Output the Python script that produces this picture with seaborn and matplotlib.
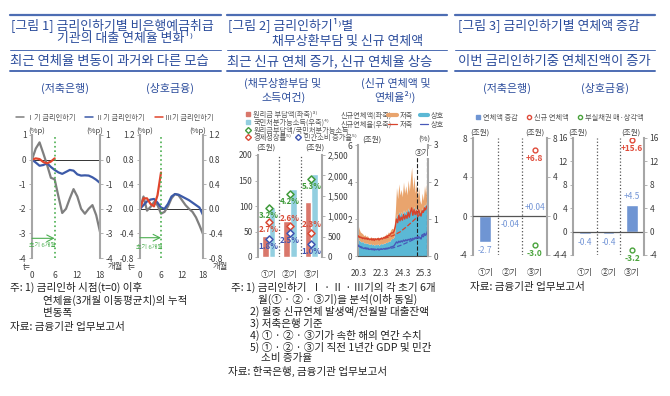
import numpy as np
import pandas as pd
import matplotlib
matplotlib.use("Agg")
import matplotlib.pyplot as plt
import seaborn as sns
from matplotlib.lines import Line2D
from matplotlib.patches import Rectangle
from matplotlib.ticker import FormatStrFormatter, FuncFormatter

# [그림 1] 금리인하기별 연체율 누적 변동폭 (%p), t=0~18개월
months = list(range(19))
sav_cycle1 = [0, 0.45, 0.70, 0.25, -0.22, -0.74, -0.80, -1.50, -2.17, -2.00, -1.58,
              -1.20, -1.50, -2.00, -2.20, -2.00, -1.85, -2.26, -2.94]
sav_cycle2 = [0, -0.12, -0.25, -0.22, -0.15, -0.30, -0.42, -0.52, -0.58, -0.50, -0.42,
              -0.45, -0.60, -0.65, -0.64, -0.65, -0.72, -0.82, -0.95]
sav_cycle3 = [0, 0.05, 0.02, -0.10, -0.15, -0.08, 0.05]
mut_cycle1 = [0, 0.20, -0.03, 0.03, 0.11, 0.06, -0.08, -0.05, 0.04, 0.17, 0.24,
              0.22, 0.14, 0.06, 0.00, -0.05, -0.14, -0.27, -0.41]
mut_cycle2 = [0, 0.06, 0.12, 0.15, 0.16, 0.10, 0.02, 0.00, 0.08, 0.20, 0.24,
              0.23, 0.20, 0.17, 0.14, 0.10, 0.06, 0.02, -0.10]
mut_cycle3 = [0, 0.17, 0.17, 0.08, 0.04, 0.22, 0.59]
cycle_names = ['Ⅰ기 금리인하기', 'Ⅱ기 금리인하기', 'Ⅲ기 금리인하기']

# [그림 2] 좌: 채무상환부담 및 소득여건
periods = ['①기', '②기', '③기']
burden = [41, 71, 108]            # 원리금 부담액 (조원, 좌축)
income = [1235, 1670, 2030]       # 국민처분가능소득 (조원, 우축)
ratio_pos = [97, 123, 153]
ratio_lbl = ['3.2%', '4.2%', '5.3%']
gdp_pos = [68, 61, 48]
gdp_lbl = ['2.7%', '2.6%', '2.3%']
cons_pos = [36, 48, 26]
cons_lbl = ['1.8%', '2.5%', '1.0%']

# [그림 2] 우: 신규 연체액(조원) 및 신규 연체율(%), 20.3~25.3
mut_amt = [0.95, 0.85, 0.8, 0.75, 0.8, 0.7, 0.72, 0.68, 0.7, 0.65,
           0.62, 0.68, 0.6, 0.65, 0.58, 0.64, 0.6, 0.66, 0.58, 0.64,
           0.68, 0.64, 0.7, 0.68, 0.75, 0.72, 0.8, 0.78, 0.88, 0.95,
           0.95, 1.05, 1.5, 2.3, 2.1, 2.4, 2.2, 2.4, 2.2, 2.5,
           2.3, 2.5, 2.3, 2.6, 2.4, 2.6, 2.5, 2.4, 2.7, 2.4,
           2.6, 2.4, 2.6, 2.4, 2.3, 2.6, 2.5, 2.8, 2.7, 3.0, 3.5]
sav_amt = [0.75, 0.6, 0.5, 0.5, 0.4, 0.4, 0.43, 0.37, 0.4, 0.35,
           0.33, 0.37, 0.35, 0.35, 0.32, 0.36, 0.35, 0.39, 0.32, 0.36,
           0.37, 0.36, 0.4, 0.37, 0.45, 0.43, 0.5, 0.47, 0.52, 0.55,
           0.5, 0.55, 0.9, 1.4, 1.0, 1.5, 1.1, 1.2, 1.0, 1.5,
           1.1, 1.3, 1.0, 1.5, 1.1, 1.6, 2.3, 1.2, 1.6, 1.0,
           1.3, 0.8, 1.1, 0.6, 0.5, 0.8, 0.5, 1.0, 0.6, 1.2, 1.2]
sav_rate = [0.55, 0.52, 0.5, 0.5, 0.47, 0.49, 0.46, 0.48, 0.45, 0.47,
            0.44, 0.46, 0.43, 0.45, 0.42, 0.46, 0.44, 0.47, 0.43, 0.46,
            0.48, 0.46, 0.5, 0.49, 0.53, 0.52, 0.56, 0.55, 0.6, 0.63,
            0.62, 0.68, 0.8, 1.0, 0.9, 1.1, 0.95, 1.05, 0.97, 1.12,
            1.0, 1.1, 1.02, 1.18, 1.05, 1.2, 1.3, 1.1, 1.25, 1.12,
            1.22, 1.1, 1.25, 1.15, 1.08, 1.22, 1.18, 1.3, 1.25, 1.35, 1.35]
mut_rate = [0.3, 0.26, 0.24, 0.22, 0.22, 0.2, 0.21, 0.19, 0.2, 0.18,
            0.18, 0.19, 0.17, 0.18, 0.16, 0.18, 0.17, 0.19, 0.16, 0.18,
            0.19, 0.18, 0.2, 0.19, 0.21, 0.2, 0.22, 0.21, 0.24, 0.25,
            0.26, 0.28, 0.33, 0.38, 0.35, 0.4, 0.37, 0.41, 0.38, 0.43,
            0.4, 0.44, 0.41, 0.45, 0.43, 0.47, 0.44, 0.48, 0.45, 0.5,
            0.47, 0.52, 0.48, 0.5, 0.46, 0.55, 0.52, 0.58, 0.56, 0.62, 0.7]
trend_idx = [0, 6, 12, 18, 24, 30, 36, 42, 48, 54, 60]
sav_trend = [0.52, 0.48, 0.46, 0.46, 0.49, 0.55, 0.65, 0.8, 0.97, 1.15, 1.33]
mut_trend = [0.27, 0.22, 0.19, 0.18, 0.19, 0.22, 0.28, 0.36, 0.45, 0.55, 0.66]
date_ticks = [0.5, 20, 38.5, 56.5]
date_labels = ['20.3', '22.3', '24.3', '25.3']

# [그림 3] 연체액 증감 (조원)
sav_change = [-2.7, -0.04, 0.04]
sav_change_lbl = ['-2.7', '-0.04', '+0.04']
sav_new = [np.nan, np.nan, 6.8]
sav_wo = [np.nan, np.nan, -3.0]
mut_change = [-0.4, -0.4, 4.5]
mut_change_lbl = ['-0.4', '-0.4', '+4.5']
mut_new = [np.nan, np.nan, 15.6]
mut_wo = [np.nan, np.nan, -3.2]

sns.set_theme(style="white")
plt.rcParams['font.family'] = ['Noto Sans CJK KR', 'DejaVu Sans']
plt.rcParams['axes.unicode_minus'] = False

NAVY = '#2c4d9c'
RULE = '#4d6db3'
AX = '#a6a6a6'
TK = '#404040'
GRAY = '#7f7f7f'
BLUE = '#3c5aa8'
RED = '#e0452c'
GREEN = '#4caf50'

W, H = 670, 396
fig = plt.figure(figsize=(6.7, 3.96), dpi=100)


def box(x0, y0, x1, y1):
    return [x0 / W, 1 - y1 / H, (x1 - x0) / W, (y1 - y0) / H]


def txt(x, y, s, **kw):
    kw.setdefault('va', 'center')
    fig.text(x / W, 1 - y / H, s, **kw)


def rule(x0, x1, y, lw):
    fig.add_artist(Line2D([x0 / W, x1 / W], [1 - y / H] * 2, color=RULE, lw=lw))


def frame(ax, ylim, yticks, fmt=None):
    axr = ax.twinx()
    for a in (ax, axr):
        a.set_ylim(ylim)
        a.set_yticks(yticks)
        for s in a.spines.values():
            s.set_visible(False)
        a.tick_params(axis='y', labelsize=6, labelcolor=TK, length=2, width=0.6,
                      color=AX, pad=2)
        if fmt is not None:
            a.yaxis.set_major_formatter(fmt)
    ax.tick_params(axis='y', left=True)
    axr.tick_params(axis='y', right=True)
    ax.spines['left'].set_visible(True)
    ax.spines['left'].set_color(AX)
    ax.spines['left'].set_linewidth(1.5)
    axr.spines['right'].set_visible(True)
    axr.spines['right'].set_color(AX)
    axr.spines['right'].set_linewidth(1.5)
    ax.tick_params(axis='x', labelsize=6, labelcolor=TK, bottom=False, pad=3)
    ax.set_facecolor('none')
    return axr


def leg(handles, labels, x, y, loc='center left', ncol=1, fs=5.2, **kw):
    fig.legend(handles, labels, loc=loc, bbox_to_anchor=(x / W, 1 - y / H), ncol=ncol,
               frameon=False, fontsize=fs, handletextpad=0.35, borderpad=0,
               borderaxespad=0, labelcolor='#555555', **kw)


# ---------- headers ----------
for x0, x1 in [(10, 221), (227, 447), (455, 655)]:
    rule(x0, x1, 14.5, 1.6)
    rule(x0, x1, 50, 0.7)
    rule(x0, x1, 71, 1.4)

TS = 9.3
SS = 9.6
txt(11, 25, '[그림 1] 금리인하기별 비은행예금취급', fontsize=TS, color=NAVY)
txt(57, 38.5, '기관의 대출 연체율 변화¹⁾', fontsize=TS, color=NAVY)
txt(10, 61.5, '최근 연체율 변동이 과거와 다른 모습', fontsize=SS, color=NAVY)
txt(228, 25, '[그림 2] 금리인하기¹⁾별', fontsize=TS, color=NAVY)
txt(272, 41, '채무상환부담 및 신규 연체액', fontsize=TS, color=NAVY)
txt(227, 61.5, '최근 신규 연체 증가, 신규 연체율 상승', fontsize=SS, color=NAVY)
txt(458, 25, '[그림 3] 금리인하기별 연체액 증감', fontsize=TS, color=NAVY)
txt(458, 61.5, '이번 금리인하기중 연체진액이 증가', fontsize=SS, color=NAVY)

HS = 7.9
txt(65, 88, '(저축은행)', fontsize=HS, color=NAVY, ha='center')
txt(170, 88, '(상호금융)', fontsize=HS, color=NAVY, ha='center')
txt(283, 83, '(채무상환부담 및', fontsize=HS, color=NAVY, ha='center')
txt(284, 97, '소득여건)', fontsize=HS, color=NAVY, ha='center')
txt(396, 83, '(신규 연체액 및', fontsize=HS, color=NAVY, ha='center')
txt(395, 97, '연체율²⁾)', fontsize=HS, color=NAVY, ha='center')
txt(507, 88, '(저축은행)', fontsize=HS, color=NAVY, ha='center')
txt(605, 88, '(상호금융)', fontsize=HS, color=NAVY, ha='center')

# ---------- [그림 1] ----------
cyc_colors = [GRAY, BLUE, RED]
panels1 = [
    (box(32, 135, 100, 258), [sav_cycle1, sav_cycle2, sav_cycle3], (-4, 1),
     [-4, -3, -2, -1, 0, 1], None, -3.2, -3.5, (27, 108)),
    (box(140, 135, 203, 258), [mut_cycle1, mut_cycle2, mut_cycle3], (-0.8, 1.2),
     [-0.8, -0.4, 0.0, 0.4, 0.8, 1.2], FormatStrFormatter('%.1f'), -0.47, -0.63, (132, 213)),
]
for rect, series, ylim, yticks, fmt, ya, yt, (xt, xm) in panels1:
    ax = fig.add_axes(rect)
    axr = frame(ax, ylim, yticks, fmt)
    for vals, col in zip(series, cyc_colors):
        sns.lineplot(x=months[:len(vals)], y=vals, color=col, lw=1.6, ax=ax)
    ax.axhline(0, color='#333333', lw=0.7, zorder=1)
    ax.axvline(6, color=GREEN, ls=':', lw=1.2)
    ax.annotate('', xy=(6, ya), xytext=(0, ya),
                arrowprops=dict(arrowstyle='->', color=GREEN, lw=0.8, shrinkA=0, shrinkB=0))
    ax.text(2.8, yt, '초기 6개월', color=GREEN, fontsize=4.3, ha='center', va='center')
    ax.set_xlim(0, 18)
    ax.set_xticks([0, 6, 12, 18])
    ax.set_xticklabels(['0', '6', '12', '18'])
    ax.set_xlabel('')
    ax.set_ylabel('')
    txt(xt, 267, 't=', fontsize=6, color=TK, ha='center')
    txt(xm, 267, '개월', fontsize=6, color=TK, ha='left')
    pos = ax.get_position()
    txt(pos.x0 * W + 5, 131, '(%p)', fontsize=5.5, color=TK, ha='center')
    txt(pos.x1 * W - 5, 131, '(%p)', fontsize=5.5, color=TK, ha='center')

leg([Line2D([], [], color=c, lw=1.1) for c in cyc_colors], cycle_names, 115, 118,
    loc='center', ncol=3, fs=5.2, handlelength=1.1, columnspacing=1.4)

# ---------- [그림 2] 좌 ----------
BAR_RED = '#d9776b'
BAR_BLUE = '#93cfe0'
MK_GREEN = '#3f9a3a'
MK_RED = '#d94a35'
MK_BLUE = '#3f55b0'
idx = np.arange(len(periods))
bars2 = pd.DataFrame({'period': periods * 2,
                      'series': ['부담'] * 3 + ['소득'] * 3,
                      'value': burden + income})
bar_kw = dict(x='period', y='value', hue='series', hue_order=['부담', '소득'], order=periods,
              palette=[BAR_RED, BAR_BLUE], dodge=True, width=0.62, saturation=1, legend=False)

ax = fig.add_axes(box(258, 155, 322, 257))
axr = frame(ax, (0, 200), [0, 50, 100, 150, 200])
sns.barplot(data=bars2[bars2['series'] == '부담'], ax=ax, **bar_kw)
sns.barplot(data=bars2[bars2['series'] == '소득'], ax=axr, **bar_kw)
axr.set_ylim(0, 2500)
axr.set_yticks([0, 500, 1000, 1500, 2000, 2500])
axr.yaxis.set_major_formatter(FuncFormatter(lambda v, p: f'{v:,.0f}'))
ax.set_ylim(0, 200)
for sep in [0.5, 1.5]:
    ax.axvline(sep, color='#555555', ls=':', lw=0.9)
mk_sets = [(ratio_pos, ratio_lbl, MK_GREEN, [-1, -1, -1]),
           (gdp_pos, gdp_lbl, MK_RED, [-1, 1, 1]),
           (cons_pos, cons_lbl, MK_BLUE, [-1, -1, -1])]
for pos_v, lbls, col, sides in mk_sets:
    sns.scatterplot(x=idx, y=pos_v, marker='D', s=13, facecolor='white', edgecolor=col,
                    linewidth=1.1, ax=ax, zorder=6)
    for i, v in enumerate(pos_v):
        ax.annotate(lbls[i], (idx[i], v), xytext=(0, 5.5 * sides[i]), textcoords='offset points',
                    ha='center', va='center', fontsize=5.8, color=col, fontweight='bold',
                    zorder=7)
ax.set_xlim(-0.5, 2.5)
ax.set_xticks(idx)
ax.set_xticklabels(periods)
for a in (ax, axr):
    a.set_ylabel('')
    a.set_xlabel('')
ax.set_zorder(axr.get_zorder() + 1)
txt(266, 148, '(조원)', fontsize=5.5, color=TK, ha='center')
txt(315, 148, '(조원)', fontsize=5.5, color=TK, ha='center')

leg([Line2D([], [], ls='', marker='s', color=BAR_RED, markersize=3.2)],
    ['원리금 부담액(좌축)³⁾'], 245, 115, handlelength=0.8)
leg([Line2D([], [], ls='', marker='s', color=BAR_BLUE, markersize=3.2)],
    ['국민처분가능소득(우축)⁴⁾'], 245, 123, handlelength=0.8)
leg([Line2D([], [], ls='', marker='D', markerfacecolor='white', markeredgecolor=MK_GREEN,
            markeredgewidth=1, markersize=3)],
    ['원리금부담액/국민처분가능소득'], 245, 130.5, handlelength=0.8)
leg([Line2D([], [], ls='', marker='D', markerfacecolor='white', markeredgecolor=MK_RED,
            markeredgewidth=1, markersize=3),
     Line2D([], [], ls='', marker='D', markerfacecolor='white', markeredgecolor=MK_BLUE,
            markeredgewidth=1, markersize=3)],
    ['경제성장률⁵⁾', '민간소비 증가율⁵⁾'], 245, 138, ncol=2, handlelength=0.8,
    columnspacing=0.6)

# ---------- [그림 2] 우 ----------
AREA_BLUE = '#5bb8d5'
AREA_ORANGE = '#e9a46d'
RATE_RED = '#d8432b'
RATE_BLUE = '#4858b8'
t_idx = np.arange(len(mut_amt))

ax = fig.add_axes(box(358, 145, 428, 256))
axr = frame(ax, (0, 6), [0, 2, 4, 6])
axr.set_ylim(0, 3)
axr.set_yticks([0, 1, 2, 3])
ax.stackplot(t_idx, mut_amt, sav_amt, colors=[AREA_BLUE, AREA_ORANGE], lw=0)
sns.lineplot(x=t_idx, y=sav_rate, color=RATE_RED, lw=1.0, ax=axr)
sns.lineplot(x=t_idx, y=mut_rate, color=RATE_BLUE, lw=1.0, ax=axr)
sns.lineplot(x=trend_idx, y=sav_trend, color=RATE_RED, lw=0.9, ls='--', ax=axr)
sns.lineplot(x=trend_idx, y=mut_trend, color=RATE_BLUE, lw=0.9, ls='--', ax=axr)
axr.add_patch(Rectangle((51, 0), 8.5, 2.73, fill=False, ls='--', lw=0.8, ec='#222222'))
axr.text(55.2, 2.78, '③기', fontsize=5.5, color=TK, ha='center', va='center',
         bbox=dict(fc='white', ec='none', pad=0.3))
ax.spines['bottom'].set_visible(True)
ax.spines['bottom'].set_color('#555555')
ax.spines['bottom'].set_linewidth(0.8)
ax.set_xlim(0, 60)
ax.set_xticks(date_ticks)
ax.set_xticklabels(date_labels)
for a in (ax, axr):
    a.set_ylabel('')
    a.set_xlabel('')
txt(372, 140, '(조원)', fontsize=5.5, color=TK, ha='center')
txt(424, 140, '(%)', fontsize=5.5, color=TK, ha='center')

txt(341, 115.5, '신규연체액(좌축)', fontsize=5.2, color='#555555', ha='left')
txt(341, 124.5, '신규연체율(우축)', fontsize=5.2, color='#555555', ha='left')
leg([Line2D([], [], color=AREA_ORANGE, lw=3), Line2D([], [], color=AREA_BLUE, lw=3)],
    ['저축', '상호'], 388, 115.5, ncol=2, handlelength=1.2, columnspacing=1.0)
leg([Line2D([], [], color=RATE_RED, lw=0.9), Line2D([], [], color=RATE_BLUE, lw=0.9)],
    ['저축', '상호'], 388, 124.5, ncol=2, handlelength=1.2, columnspacing=1.0)

# ---------- [그림 3] ----------
BAR3 = '#6f95d3'
LBL3 = '#7395d6'
RED3 = '#e04b3a'
GREEN3 = '#4aa33c'
panels3 = [
    (box(473, 138, 547, 255), sav_change, sav_change_lbl, sav_new, sav_wo, (-4, 8), [-4, 0, 4, 8],
     (480, 535)),
    (box(573, 138, 644, 255), mut_change, mut_change_lbl, mut_new, mut_wo, (-4, 16),
     [-4, 0, 4, 8, 12, 16], (578, 631)),
]
for rect, chg, chg_lbl, new, wo, ylim, yticks, (ul, ur) in panels3:
    ax = fig.add_axes(rect)
    axr = frame(ax, ylim, yticks)
    sns.barplot(x=periods, y=chg, color=BAR3, saturation=1, width=0.5, ax=ax)
    ax.axhline(0, color='#555555', lw=0.9, zorder=3)
    for sep in [0.5, 1.5]:
        ax.axvline(sep, color='#555555', ls=':', lw=0.9)
    sns.scatterplot(x=idx, y=new, marker='o', s=12, facecolor='white', edgecolor=RED3,
                    linewidth=1.0, ax=ax, zorder=6)
    sns.scatterplot(x=idx, y=wo, marker='o', s=12, facecolor='white', edgecolor=GREEN3,
                    linewidth=1.0, ax=ax, zorder=6)
    for i, v in enumerate(chg):
        off = 6 if v > 0 else -6
        ax.annotate(chg_lbl[i], (i, v), xytext=(0, off), textcoords='offset points',
                    ha='center', va='center', fontsize=6, color=LBL3)
        if not np.isnan(new[i]):
            ax.annotate(f'+{new[i]:.1f}', (i, new[i]), xytext=(0, -6), textcoords='offset points',
                        ha='center', va='center', fontsize=6, color=RED3, fontweight='bold')
        if not np.isnan(wo[i]):
            ax.annotate(f'{wo[i]:.1f}', (i, wo[i]), xytext=(0, -6), textcoords='offset points',
                        ha='center', va='center', fontsize=6, color=GREEN3, fontweight='bold')
    ax.set_xlim(-0.5, 2.5)
    ax.set_xticks(idx)
    ax.set_xticklabels(periods)
    ax.set_ylim(ylim)
    for a in (ax, axr):
        a.set_ylabel('')
        a.set_xlabel('')
    txt(ul, 133, '(조원)', fontsize=5.5, color=TK, ha='center')
    txt(ur, 133, '(조원)', fontsize=5.5, color=TK, ha='center')

leg([Line2D([], [], ls='', marker='s', color=BAR3, markersize=3),
     Line2D([], [], ls='', marker='o', markerfacecolor='white', markeredgecolor=RED3,
            markeredgewidth=1, markersize=3),
     Line2D([], [], ls='', marker='o', markerfacecolor='white', markeredgecolor=GREEN3,
            markeredgewidth=1, markersize=3)],
    ['연체액 증감', '신규 연체액', '부실채권 매·상각액'], 560, 118, loc='center', ncol=3,
    handlelength=0.7, columnspacing=1.2)

# ---------- footnotes ----------
FN = 7.6
FC = '#222222'
txt(10, 287, '주: 1) 금리인하 시점(t=0) 이후', fontsize=FN, color=FC)
txt(43, 300, '연체율(3개월 이동평균치)의 누적', fontsize=FN, color=FC)
txt(43, 313, '변동폭', fontsize=FN, color=FC)
txt(10, 327, '자료: 금융기관 업무보고서', fontsize=FN, color=FC)

txt(231, 287, '주: 1) 금리인하기  Ⅰ · Ⅱ · Ⅲ기의 각 초기 6개', fontsize=FN, color=FC)
txt(258, 299, '월(① · ② · ③기)을 분석(이하 동일)', fontsize=FN, color=FC)
txt(250, 311, '2) 월중 신규연체 발생액/전월말 대출잔액', fontsize=FN, color=FC)
txt(250, 323, '3) 저축은행 기준', fontsize=FN, color=FC)
txt(250, 335, '4) ① · ② · ③기가 속한 해의 연간 수치', fontsize=FN, color=FC)
txt(250, 347, '5) ① · ② · ③기 직전 1년간 GDP 및 민간', fontsize=FN, color=FC)
txt(261, 358, '소비 증가율', fontsize=FN, color=FC)
txt(228, 371, '자료: 한국은행, 금융기관 업무보고서', fontsize=FN, color=FC)

txt(470, 287, '자료: 금융기관 업무보고서', fontsize=FN, color=FC)

fig.savefig('out.png', dpi=100)
